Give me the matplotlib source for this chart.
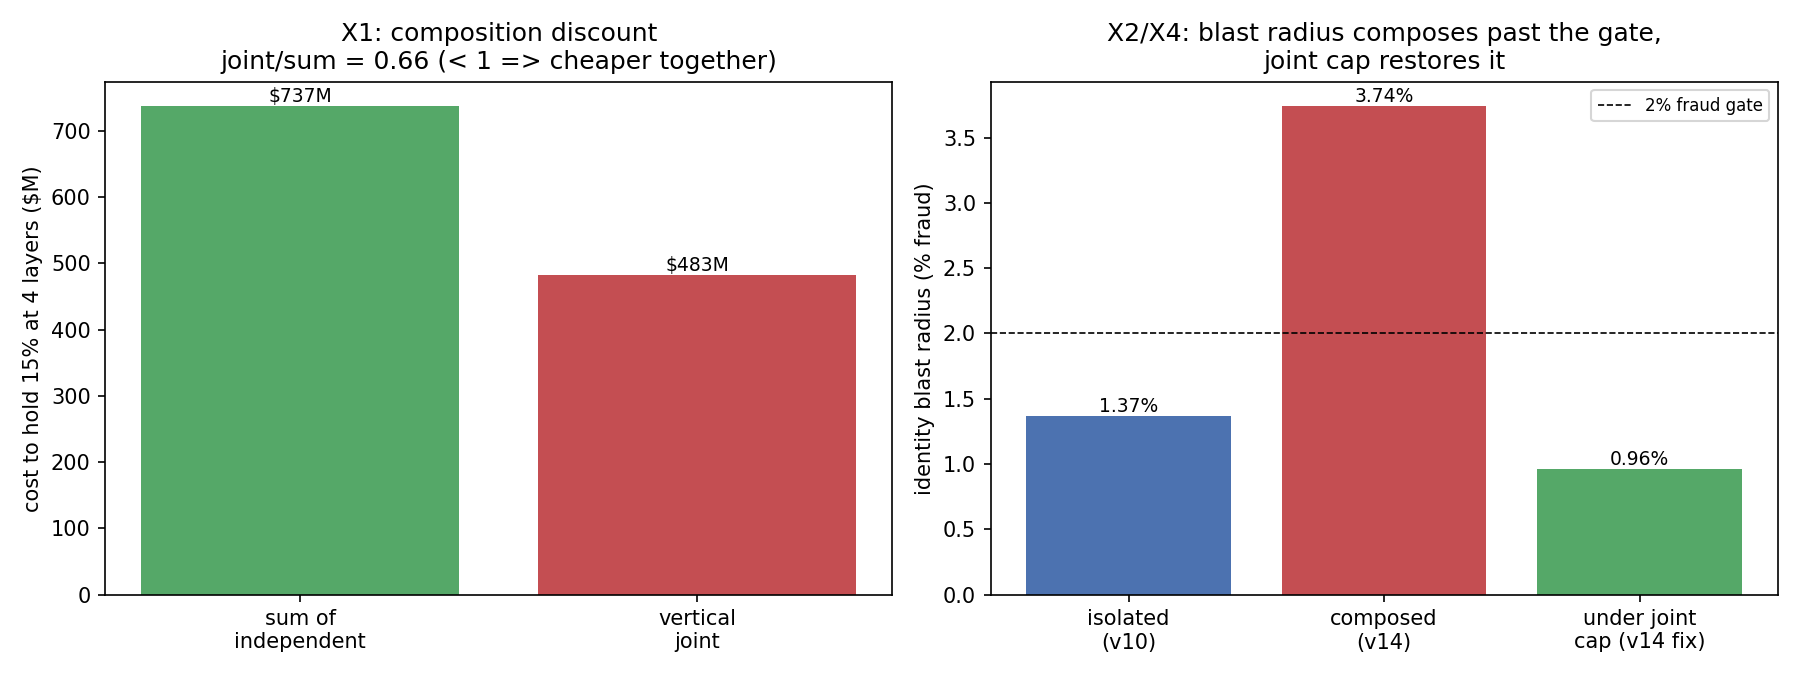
import matplotlib
matplotlib.use("Agg")
import matplotlib.pyplot as plt

# X1 data
x1_labels = ["sum of\nindependent", "vertical\njoint"]
x1_costs = [737, 483]
x1_colors = ["#55A868", "#C44E52"]
joint_ratio = 0.66

# X2/X4 data
x2_labels = ["isolated\n(v10)", "composed\n(v14)", "under joint\ncap (v14 fix)"]
x2_blast = [1.37, 3.74, 0.96]
x2_colors = ["#4C72B0", "#C44E52", "#55A868"]
fraud_gate = 2.0

fig, (ax1, ax2) = plt.subplots(1, 2, figsize=(12, 4.5), dpi=150)

bars = ax1.bar(x1_labels, x1_costs, color=x1_colors)
for b, v in zip(bars, x1_costs):
    ax1.text(b.get_x() + b.get_width() / 2, v, "${}M".format(v),
             ha="center", va="bottom", fontsize=9)
ax1.set_ylabel("cost to hold 15% at 4 layers ($M)")
ax1.set_title("X1: composition discount\njoint/sum = {:.2f} (< 1 => cheaper together)".format(joint_ratio))

bars = ax2.bar(x2_labels, x2_blast, color=x2_colors)
for b, v in zip(bars, x2_blast):
    ax2.text(b.get_x() + b.get_width() / 2, v, "{:.2f}%".format(v),
             ha="center", va="bottom", fontsize=9)
ax2.axhline(fraud_gate, color="black", linestyle="--", linewidth=0.8,
            label="2% fraud gate")
ax2.set_ylabel("identity blast radius (% fraud)")
ax2.set_title("X2/X4: blast radius composes past the gate,\njoint cap restores it")
ax2.legend(fontsize=8, loc="upper right")

plt.tight_layout()
plt.savefig("out.png", dpi=150)
